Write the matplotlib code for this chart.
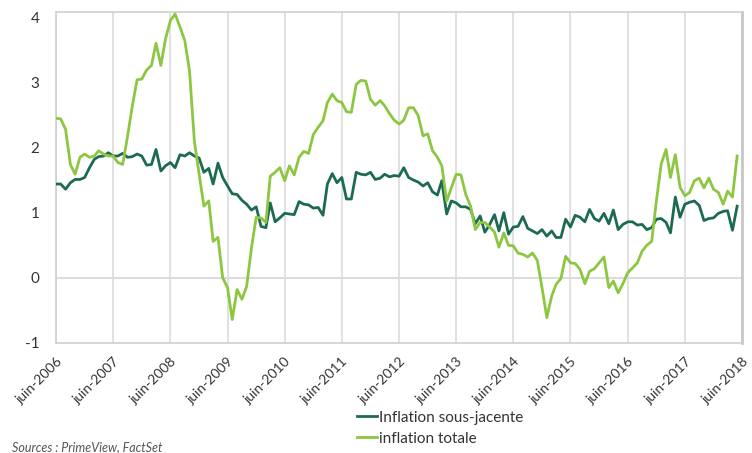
import numpy as np
import pandas as pd
import matplotlib
matplotlib.use('Agg')
import matplotlib.pyplot as plt

# monthly data, June 2006 -> May 2018
start = '2006-06-01'
core = [1.44, 1.44, 1.36, 1.46, 1.51, 1.51, 1.54, 1.69, 1.82, 1.86, 1.87, 1.92,
        1.87, 1.87, 1.91, 1.85, 1.86, 1.90, 1.87, 1.73, 1.74, 1.97, 1.64, 1.72,
        1.77, 1.69, 1.89, 1.87, 1.92, 1.87, 1.84, 1.62, 1.68, 1.44, 1.76, 1.54,
        1.41, 1.29, 1.28, 1.19, 1.13, 1.04, 1.09, 0.79, 0.77, 1.15, 0.86, 0.92,
        0.99, 0.98, 0.97, 1.17, 1.13, 1.12, 1.07, 1.08, 0.96, 1.44, 1.60, 1.46,
        1.54, 1.21, 1.21, 1.62, 1.59, 1.58, 1.62, 1.51, 1.53, 1.59, 1.55, 1.57,
        1.56, 1.69, 1.54, 1.50, 1.47, 1.41, 1.46, 1.32, 1.27, 1.49, 0.98, 1.18,
        1.15, 1.09, 1.09, 1.05, 0.83, 0.95, 0.70, 0.82, 0.97, 0.72, 1.00, 0.67,
        0.78, 0.79, 0.94, 0.76, 0.72, 0.68, 0.74, 0.64, 0.72, 0.62, 0.62, 0.90,
        0.78, 0.96, 0.93, 0.86, 1.05, 0.91, 0.87, 0.99, 0.83, 1.04, 0.74, 0.82,
        0.86, 0.86, 0.81, 0.82, 0.74, 0.77, 0.90, 0.91, 0.85, 0.69, 1.24, 0.93,
        1.13, 1.16, 1.18, 1.11, 0.88, 0.91, 0.92, 0.99, 1.02, 1.03, 0.73, 1.10]
total = [2.45, 2.44, 2.28, 1.74, 1.59, 1.85, 1.90, 1.85, 1.87, 1.95, 1.90, 1.87,
         1.87, 1.77, 1.74, 2.17, 2.63, 3.04, 3.05, 3.19, 3.26, 3.60, 3.26, 3.67,
         3.95, 4.05, 3.85, 3.64, 3.18, 2.10, 1.60, 1.10, 1.18, 0.56, 0.62, 0.00,
         -0.15, -0.64, -0.18, -0.33, -0.13, 0.46, 0.93, 0.92, 0.85, 1.56, 1.62, 1.69,
         1.49, 1.72, 1.58, 1.85, 1.94, 1.91, 2.20, 2.31, 2.41, 2.69, 2.82, 2.72,
         2.69, 2.55, 2.54, 2.97, 3.03, 3.02, 2.74, 2.65, 2.72, 2.64, 2.52, 2.42,
         2.36, 2.42, 2.61, 2.61, 2.49, 2.18, 2.21, 1.95, 1.85, 1.72, 1.18, 1.38,
         1.59, 1.58, 1.28, 1.10, 0.74, 0.85, 0.85, 0.78, 0.70, 0.47, 0.69, 0.50,
         0.49, 0.38, 0.36, 0.32, 0.38, 0.27, -0.15, -0.61, -0.28, -0.10, -0.01, 0.33,
         0.23, 0.22, 0.13, -0.09, 0.10, 0.14, 0.23, 0.32, -0.15, -0.05, -0.23, -0.09,
         0.08, 0.15, 0.23, 0.41, 0.50, 0.56, 1.18, 1.75, 1.97, 1.54, 1.89, 1.39,
         1.26, 1.31, 1.49, 1.53, 1.38, 1.53, 1.36, 1.31, 1.13, 1.33, 1.24, 1.87]
tick_years = list(range(2006, 2019))
y_ticks = [-1, 0, 1, 2, 3, 4]

dates = pd.date_range(start, periods=len(core), freq='MS')

plt.rcParams['font.family'] = ['Lato', 'DejaVu Sans']

fig = plt.figure(figsize=(7.52, 4.53), dpi=100)
ax = fig.add_axes([56 / 752, 110 / 453, 686 / 752, 331 / 453])

ax.plot(dates, core, color='#1d6a52', lw=2.0, label='Inflation sous-jacente', zorder=3)
ax.plot(dates, total, color='#8dc641', lw=2.0, label='inflation totale', zorder=3)

ticks = [pd.Timestamp(f'{y}-06-01') for y in tick_years]
ax.set_xticks(ticks)
ax.set_xticklabels([f'juin-{y}' for y in tick_years], rotation=45, ha='right',
                   rotation_mode='anchor', fontsize=10, color='#333333')
ax.set_xlim(ticks[0], ticks[-1])
ax.set_ylim(-1, 4.08)
ax.set_yticks(y_ticks)
ax.set_yticklabels([str(v) for v in y_ticks], fontsize=11, color='#333333')
ax.tick_params(axis='both', length=0)
ax.tick_params(axis='y', pad=12)
ax.tick_params(axis='x', pad=9)

ax.grid(axis='x', color='#dcdcdc', lw=1.2)
ax.axhline(0, color='#dcdcdc', lw=1.4, zorder=1)
for side in ['left', 'bottom', 'top']:
    ax.spines[side].set_color('#cfcfcf')
    ax.spines[side].set_linewidth(1.2)
ax.spines['right'].set_color('#c8c8c8')
ax.spines['right'].set_linewidth(2)

fig.legend(loc='upper left', bbox_to_anchor=(343 / 752, 1 - 397 / 453), frameon=False,
           handlelength=1.3, handletextpad=0.15, labelspacing=0.45, fontsize=11,
           labelcolor='#333333')

fig.text(12 / 752, 1 - 447 / 453, 'Sources : PrimeView, FactSet', fontsize=9,
         style='italic', color='#555555', va='center')

fig.savefig('out.png', dpi=100)
plt.close()
